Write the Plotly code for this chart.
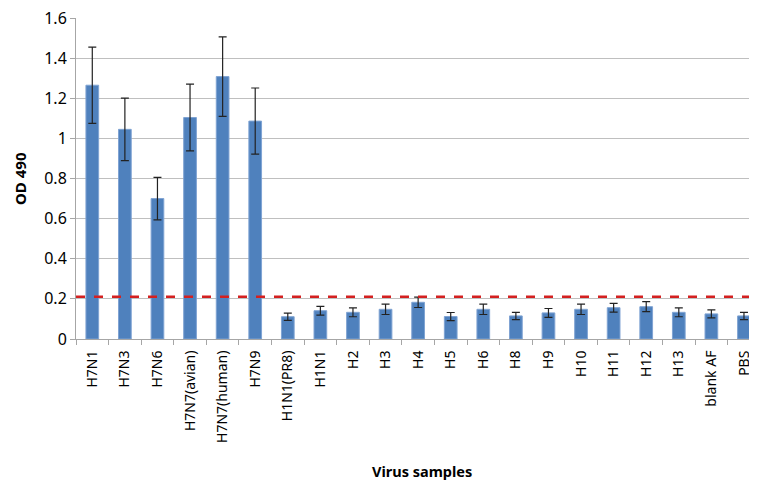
import plotly.graph_objects as go

categories = ["H7N1", "H7N3", "H7N6", "H7N7(avian)", "H7N7(human)", "H7N9",
              "H1N1(PR8)", "H1N1", "H2", "H3", "H4", "H5", "H6", "H8", "H9",
              "H10", "H11", "H12", "H13", "blank AF", "PBS"]
od490 = [1.265, 1.045, 0.70, 1.104, 1.308, 1.086,
         0.111, 0.141, 0.133, 0.148, 0.183, 0.112, 0.148, 0.115, 0.130,
         0.148, 0.156, 0.161, 0.133, 0.125, 0.115]
errors = [0.19, 0.156, 0.106, 0.166, 0.198, 0.165,
          0.018, 0.022, 0.022, 0.026, 0.026, 0.02, 0.026, 0.018, 0.022,
          0.026, 0.022, 0.025, 0.022, 0.02, 0.018]
cutoff = 0.21

# The page body has an 8px default margin, so the figure is 8px smaller
# and its margins are shifted accordingly.
PAGE_OFF = 8

fig = go.Figure()
fig.add_trace(go.Bar(
    x=categories, y=od490,
    width=0.39,
    marker=dict(color="#4F81BD", line=dict(color="#7FA3D3", width=1)),
    error_y=dict(type="data", array=errors, visible=True,
                 color="#222222", thickness=1.2, width=4),
))

fig.add_shape(type="line", xref="paper", yref="y", x0=0, x1=1,
              y0=cutoff, y1=cutoff,
              line=dict(color="#D42020", width=2.5, dash="dash"))

fig.add_annotation(text="<b>Virus samples</b>", xref="paper", yref="paper",
                   x=(422 - 76) / 681, y=-(471 - 339) / 321,
                   xanchor="center", yanchor="middle", showarrow=False,
                   font=dict(size=14.5, family="Noto Sans", color="black"))
fig.add_annotation(text="<b>OD 490</b>", xref="paper", yref="paper",
                   x=(19.5 - 76) / 681, y=0.5, textangle=-90,
                   xanchor="center", yanchor="middle", showarrow=False,
                   font=dict(size=15, family="Noto Sans", color="black"))

fig.update_layout(
    width=757 - PAGE_OFF, height=481 - PAGE_OFF,
    margin=dict(l=76 - PAGE_OFF, r=0, t=18 - PAGE_OFF, b=142, pad=0),
    paper_bgcolor="white", plot_bgcolor="white",
    showlegend=False,
    font=dict(family="Noto Sans", color="black"),
    xaxis=dict(
        range=[-0.5, 20.4],
        tickangle=-90,
        tickfont=dict(size=14, family="Noto Sans"),
        ticklabelstandoff=5,
        ticklabeloverflow="allow",
        showline=True, linecolor="#A6A6A6", linewidth=1,
        ticks="outside", tickson="boundaries", ticklen=5, tickcolor="#A6A6A6",
        showgrid=False,
        automargin=False,
    ),
    yaxis=dict(
        range=[0, 1.6], dtick=0.2,
        tickfont=dict(size=16, family="Noto Sans"),
        ticklabeloverflow="allow",
        showgrid=True, gridcolor="#BFBFBF", gridwidth=1,
        showline=True, linecolor="#A6A6A6", linewidth=1,
        ticks="outside", ticklen=5, tickcolor="#A6A6A6",
        zeroline=False,
        automargin=False,
    ),
)

fig.write_html("out.html")
